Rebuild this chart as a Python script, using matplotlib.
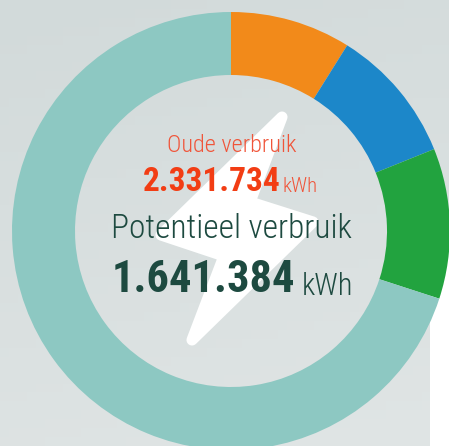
#!/usr/bin/env python3
"""Donut with old and potential consumption in the middle"""
import matplotlib
matplotlib.use('Agg')
import matplotlib.pyplot as plt
import matplotlib.font_manager as fm
import numpy as np
from matplotlib.patches import Polygon, Rectangle

# share of the ring, clockwise from the top, percent
shares = [8.9, 10.0, 11.1, 70.0]
slice_colors = ['#F28A1A', '#1C87C9', '#22A33F', '#8DC8C2']

old_label = 'Oude verbruik'
old_value = '2.331.734'
new_label = 'Potentieel verbruik'
new_value = '1.641.384'
unit = 'kWh'

RED = '#F23D14'
RED_LIGHT = '#F0553A'
DARK = '#1D4A40'

names = {f.name for f in fm.fontManager.ttflist}
narrow = [n for n in ['Liberation Sans Narrow', 'Roboto Condensed', 'Open Sans Condensed'] if n in names]
family = narrow + ['DejaVu Sans']

fig = plt.figure(figsize=(4.49, 4.46), dpi=100)
ax = fig.add_axes([0, 0, 1, 1])

# pale background panel, lighter towards the bottom
yy, xx = np.mgrid[0:1:50j, 0:1:50j]
grad = 0.8 * yy + 0.2 * xx
cmap = matplotlib.colors.LinearSegmentedColormap.from_list('bg', ['#D2DADA', '#E0E5E5'])
ax.imshow(grad, extent=(0, 449, 0, 446), cmap=cmap, aspect='auto', zorder=0, origin='upper')
# panel stops short of the edge below the ring's widest point
ax.add_patch(Rectangle((430, 0), 19, 215, facecolor='white', edgecolor='none', zorder=0.5))

ax.pie(shares, colors=slice_colors, startangle=90, counterclock=False, center=(231, 215),
       radius=219, wedgeprops={'width': 63, 'linewidth': 0, 'zorder': 2}, frame=True)
ax.set_xlim(0, 449)
ax.set_ylim(0, 446)
ax.axis('off')

# lightning bolt
bolt = [(282, 329), (161, 211), (224, 190), (192, 106), (313, 224), (250, 244)]
ax.add_patch(Polygon(bolt, closed=True, facecolor='white', edgecolor='white',
                     linewidth=8, joinstyle='round', zorder=3))

ax.text(231.5, 446 - 152, old_label, ha='center', va='baseline', fontsize=17.5, color=RED_LIGHT,
        family=family, fontweight='light', zorder=5)
ax.text(143, 446 - 191, old_value, ha='left', va='baseline', fontsize=24, fontweight='bold', color=RED,
        family=family, zorder=5)
ax.text(283, 446 - 192, unit, ha='left', va='baseline', fontsize=15, color=RED_LIGHT,
        family=family, fontweight='light', zorder=5)
ax.text(231, 446 - 238, new_label, ha='center', va='baseline', fontsize=24, color=DARK,
        family=family, fontweight='light', zorder=5)
ax.text(112, 446 - 292, new_value, ha='left', va='baseline', fontsize=32, fontweight='bold', color=DARK,
        family=family, zorder=5)
ax.text(302, 446 - 295, unit, ha='left', va='baseline', fontsize=22, color=DARK,
        family=family, fontweight='light', zorder=5)

fig.savefig('out.png', dpi=100)
plt.close()
